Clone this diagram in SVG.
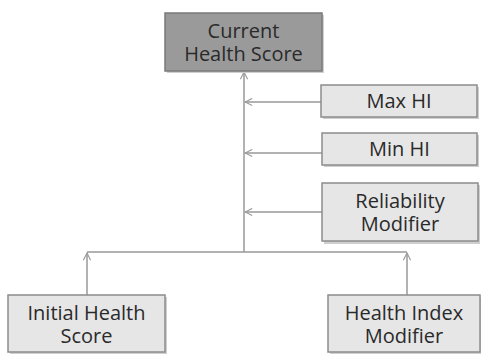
<svg xmlns="http://www.w3.org/2000/svg" width="481" height="354" viewBox="0 0 481 354">
<defs>
<style>
.box{fill:#e6e6e6;stroke:#8c8c8c;stroke-width:1.5}
.dark{fill:#9a9a9a;stroke:#7a7a7a;stroke-width:1.5}
.sh{fill:#cfcfcf}
.t{font-family:"Open Sans","Liberation Sans",sans-serif;font-size:20px;fill:#2a2a2a;text-anchor:middle}
.c{stroke:#999;stroke-width:1.5;fill:none}
</style>
<marker id="ah" viewBox="0 0 10 10" refX="9" refY="5" markerWidth="9" markerHeight="9" markerUnits="userSpaceOnUse" orient="auto">
<path d="M1,1 L9,5 L1,9" fill="none" stroke="#999" stroke-width="1.2"/>
</marker>
</defs>
<rect width="481" height="354" fill="#fff"/>
<g id="connectors">
<line class="c" x1="244" y1="252" x2="244" y2="72" marker-end="url(#ah)"/>
<line class="c" x1="321" y1="102" x2="245" y2="102" marker-end="url(#ah)"/>
<line class="c" x1="322" y1="153" x2="245" y2="153" marker-end="url(#ah)"/>
<line class="c" x1="322" y1="212" x2="245" y2="212" marker-end="url(#ah)"/>
<line class="c" x1="87" y1="252" x2="407" y2="252"/>
<line class="c" x1="87" y1="295" x2="87" y2="253" marker-end="url(#ah)"/>
<line class="c" x1="407" y1="295" x2="407" y2="253" marker-end="url(#ah)"/>
</g>
<g id="current">
<rect class="sh" x="167" y="15" width="157" height="58"/>
<rect class="dark" x="165" y="13" width="157" height="58"/>
<text class="t" x="243.5" y="38">Current</text>
<text class="t" x="243.5" y="61">Health Score</text>
</g>
<g id="maxhi">
<rect class="sh" x="323" y="87" width="156" height="32"/>
<rect class="box" x="321" y="85" width="156" height="32"/>
<text class="t" x="399" y="108">Max HI</text>
</g>
<g id="minhi">
<rect class="sh" x="324" y="135" width="155" height="32"/>
<rect class="box" x="322" y="133" width="155" height="32"/>
<text class="t" x="399.5" y="156">Min HI</text>
</g>
<g id="reliability">
<rect class="sh" x="324" y="185" width="156" height="59"/>
<rect class="box" x="322" y="183" width="156" height="58"/>
<text class="t" x="400" y="208">Reliability</text>
<text class="t" x="400" y="231">Modifier</text>
</g>
<g id="initial">
<rect class="sh" x="10" y="297" width="157" height="57"/>
<rect class="box" x="8" y="295" width="157" height="57"/>
<text class="t" x="86.5" y="320">Initial Health</text>
<text class="t" x="86.5" y="343">Score</text>
</g>
<g id="hindex">
<rect class="sh" x="330" y="297" width="151" height="57"/>
<rect class="box" x="328" y="295" width="152" height="57"/>
<text class="t" x="404" y="320">Health Index</text>
<text class="t" x="404" y="343">Modifier</text>
</g>
</svg>
